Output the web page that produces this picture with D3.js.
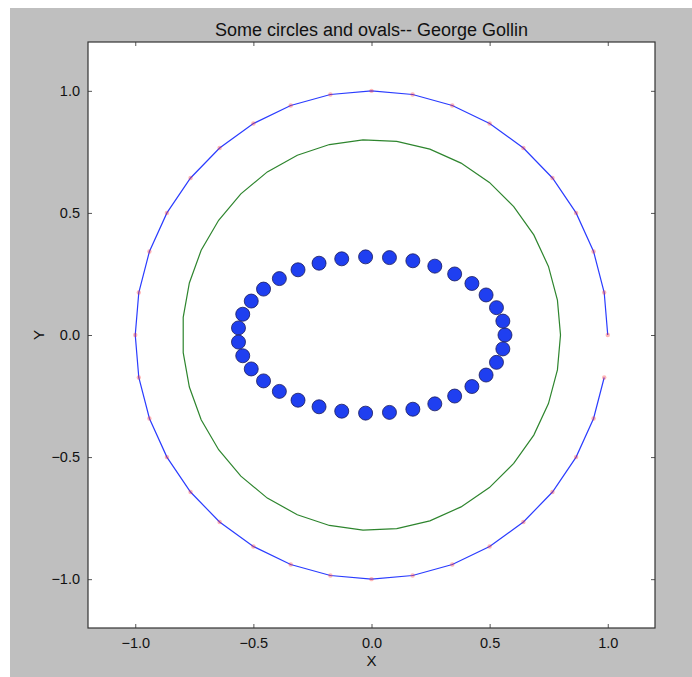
<!DOCTYPE html>
<html>

<head>
    <meta charset="utf-8">
    <style>
        body {
            margin: 0;
            background: #ffffff;
            font-family: 'Liberation Sans', Arial, Helvetica, sans-serif;
        }

        svg {
            display: block;
        }

        .axis .domain {
            display: none;
        }

        .axis .tick line {
            stroke: #555;
            stroke-width: 1;
        }

        .axis .tick text {
            font-size: 14.5px;
            fill: #111;
        }

        .title {
            font-size: 18px;
            fill: #111;
        }

        .axis-label {
            font-size: 15px;
            fill: #111;
        }
    </style>
</head>

<body>
    <svg width="692" height="677"></svg>
</body>

<script src="https://d3js.org/d3.v7.min.js"></script>

<script>
    // blue circle, radius 1, 10 degree steps, not closed (gap at the right)
    let circleX = [1.000, 0.985, 0.940, 0.866, 0.766, 0.643, 0.500, 0.342, 0.174, 0.000,
        -0.174, -0.342, -0.500, -0.643, -0.766, -0.866, -0.940, -0.985, -1.000,
        -0.985, -0.940, -0.866, -0.766, -0.643, -0.500, -0.342, -0.174, 0.000,
        0.174, 0.342, 0.500, 0.643, 0.766, 0.866, 0.940, 0.985]
    let circleY = [0.000, 0.174, 0.342, 0.500, 0.643, 0.766, 0.866, 0.940, 0.985, 1.000,
        0.985, 0.940, 0.866, 0.766, 0.643, 0.500, 0.342, 0.174, 0.000,
        -0.174, -0.342, -0.500, -0.643, -0.766, -0.866, -0.940, -0.985, -1.000,
        -0.985, -0.940, -0.866, -0.766, -0.643, -0.500, -0.342, -0.174]

    // green circle, radius 0.8, closed
    let greenX = [0.800, 0.787, 0.749, 0.687, 0.602, 0.499, 0.379, 0.247, 0.107, -0.036,
        -0.178, -0.314, -0.441, -0.553, -0.647, -0.721, -0.771, -0.797, -0.797,
        -0.771, -0.721, -0.647, -0.553, -0.441, -0.314, -0.178, -0.036, 0.107,
        0.247, 0.379, 0.499, 0.602, 0.687, 0.749, 0.787, 0.800]
    let greenY = [0.000, 0.143, 0.281, 0.410, 0.526, 0.625, 0.704, 0.761, 0.793, 0.799,
        0.780, 0.736, 0.668, 0.578, 0.470, 0.347, 0.213, 0.072, -0.072,
        -0.213, -0.347, -0.470, -0.578, -0.668, -0.736, -0.780, -0.799, -0.793,
        -0.761, -0.704, -0.625, -0.526, -0.410, -0.281, -0.143, 0.000]

    // big blue dots on the oval
    let ovalX = [0.565, 0.556, 0.529, 0.485, 0.425, 0.352, 0.268, 0.175, 0.076, -0.025,
        -0.126, -0.222, -0.311, -0.390, -0.457, -0.509, -0.545, -0.563, -0.563,
        -0.545, -0.509, -0.457, -0.390, -0.311, -0.222, -0.126, -0.025, 0.076,
        0.175, 0.268, 0.352, 0.425, 0.485, 0.529, 0.556]
    let ovalY = [0.000, 0.057, 0.112, 0.164, 0.211, 0.250, 0.282, 0.304, 0.317, 0.320,
        0.312, 0.294, 0.267, 0.231, 0.188, 0.139, 0.085, 0.029, -0.029,
        -0.085, -0.139, -0.188, -0.231, -0.267, -0.294, -0.312, -0.320, -0.317,
        -0.304, -0.282, -0.250, -0.211, -0.164, -0.112, -0.057]

    let tickValues = [-1.0, -0.5, 0.0, 0.5, 1.0]

    let svg = d3.select("svg")

    let margin = { top: 42, right: 37, bottom: 49, left: 88 };
    let width = 692;
    let height = 677;

    // gray figure background
    svg.append("rect")
        .attr("x", 10)
        .attr("y", 8)
        .attr("width", width - 10)
        .attr("height", height - 8)
        .attr("fill", "#bfbfbf")

    let x = d3.scaleLinear()
        .domain([-1.2, 1.2])
        .range([margin.left, width - margin.right])

    let y = d3.scaleLinear()
        .domain([-1.2, 1.2])
        .range([height - margin.bottom, margin.top])

    // white plot area
    svg.append("rect")
        .attr("x", x(-1.2))
        .attr("y", y(1.2))
        .attr("width", x(1.2) - x(-1.2))
        .attr("height", y(-1.2) - y(1.2))
        .attr("fill", "#ffffff")

    let fmt = d => d3.format(".1f")(d).replace("-", "\u2212")

    svg.append("g")
        .attr("class", "x axis")
        .attr("transform", `translate(0,${y(-1.2)})`)
        .call(d3.axisBottom(x).tickValues(tickValues).tickSizeInner(-4).tickSizeOuter(0).tickPadding(10).tickFormat(fmt))

    svg.append("g")
        .attr("class", "x axis")
        .attr("transform", `translate(0,${y(1.2)})`)
        .call(d3.axisTop(x).tickValues(tickValues).tickSizeInner(-4).tickSizeOuter(0).tickFormat(""))

    svg.append("g")
        .attr("class", "y axis")
        .attr("transform", `translate(${x(-1.2)},0)`)
        .call(d3.axisLeft(y).tickValues(tickValues).tickSizeInner(-4).tickSizeOuter(0).tickPadding(8).tickFormat(fmt))

    svg.append("g")
        .attr("class", "y axis")
        .attr("transform", `translate(${x(1.2)},0)`)
        .call(d3.axisRight(y).tickValues(tickValues).tickSizeInner(-4).tickSizeOuter(0).tickFormat(""))

    let line = d3.line()
        .x(d => x(d[0]))
        .y(d => y(d[1]))

    let circlePts = circleX.map((v, i) => [v, circleY[i]])
    let greenPts = greenX.map((v, i) => [v, greenY[i]])
    let ovalPts = ovalX.map((v, i) => [v, ovalY[i]])

    svg.append("path")
        .datum(circlePts)
        .attr("fill", "none")
        .attr("stroke", "#2a3cff")
        .attr("stroke-width", 1.2)
        .attr("d", line)

    svg.append("g")
        .selectAll("circle")
        .data(circlePts)
        .join("circle")
        .attr("cx", d => x(d[0]))
        .attr("cy", d => y(d[1]))
        .attr("r", 2.2)
        .attr("fill", "#ff3030")
        .style("fill-opacity", 0.35)

    svg.append("path")
        .datum(greenPts)
        .attr("fill", "none")
        .attr("stroke", "#2e852e")
        .attr("stroke-width", 1.2)
        .attr("d", line)

    svg.append("g")
        .selectAll("circle")
        .data(ovalPts)
        .join("circle")
        .attr("cx", d => x(d[0]))
        .attr("cy", d => y(d[1]))
        .attr("r", 7)
        .attr("fill", "#1f3ff0")
        .attr("stroke", "#1a1a5a")
        .attr("stroke-width", 0.8)

    // frame
    svg.append("rect")
        .attr("x", x(-1.2))
        .attr("y", y(1.2))
        .attr("width", x(1.2) - x(-1.2))
        .attr("height", y(-1.2) - y(1.2))
        .attr("fill", "none")
        .attr("stroke", "#333")
        .attr("stroke-width", 1.2)

    svg.append("text")
        .attr("class", "title")
        .attr("x", x(0))
        .attr("y", 36)
        .attr("text-anchor", "middle")
        .text("Some circles and ovals-- George Gollin")

    svg.append("text")
        .attr("class", "axis-label")
        .attr("x", x(0))
        .attr("y", 666)
        .attr("text-anchor", "middle")
        .text("X")

    svg.append("text")
        .attr("class", "axis-label")
        .attr("transform", `translate(44,${y(0)}) rotate(-90)`)
        .attr("text-anchor", "middle")
        .text("Y")
</script>

</html>
